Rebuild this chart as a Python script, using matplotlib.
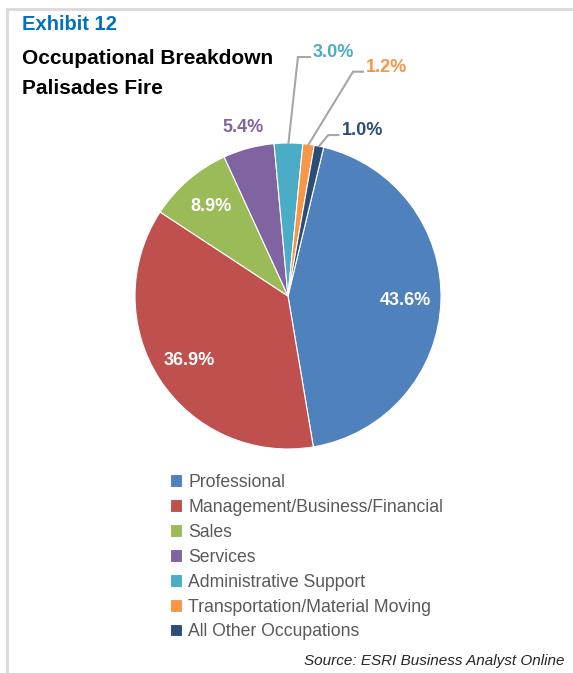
import matplotlib.pyplot as plt
from matplotlib.patches import Rectangle
import numpy as np

plt.rcParams['font.family'] = ['Liberation Sans', 'DejaVu Sans']

# Occupation shares (%)
occupations = [
    "Professional",
    "Management/Business/Financial",
    "Sales",
    "Services",
    "Administrative Support",
    "Transportation/Material Moving",
    "All Other Occupations",
]
shares = [43.6, 36.9, 8.9, 5.4, 3.0, 1.2, 1.0]
colors = ["#4F81BD", "#C0504D", "#9BBB59", "#8064A2", "#4BACC6", "#F79646", "#2C4D75"]

W, H = 573, 673
fig = plt.figure(figsize=(W / 100, H / 100), dpi=100)

# light frame around the exhibit
fig.patches.append(Rectangle((7 / W, -0.05), 1.1, (H - 9) / H + 0.05,
                             transform=fig.transFigure, fill=False,
                             edgecolor="#D9D9D9", linewidth=2))

# titles
fig.text(22 / W, 1 - 24 / H, "Exhibit 12", color="#0070C0", fontsize=14.5,
         fontweight="bold", va="center", ha="left")
fig.text(22 / W, 1 - 58 / H, "Occupational Breakdown", color="black", fontsize=15,
         fontweight="bold", va="center", ha="left")
fig.text(22 / W, 1 - 88 / H, "Palisades Fire", color="black", fontsize=15,
         fontweight="bold", va="center", ha="left")

# pie axes: center (288, 296) px, radius 153 px
cx, cy, r = 288, 296, 153
ax = fig.add_axes([(cx - r) / W, (H - cy - r) / H, 2 * r / W, 2 * r / H])

start = 76.5
wedges, _ = ax.pie(shares, colors=colors, startangle=start, counterclock=False,
                   radius=1, wedgeprops=dict(edgecolor="white", linewidth=0.8))
ax.set_xlim(-1, 1)
ax.set_ylim(-1, 1)
ax.axis("off")

# mid angle of each wedge (degrees, math convention)
cum = np.cumsum([0] + shares)
mids = [start - 3.6 * (cum[i] + shares[i] / 2) for i in range(len(shares))]

def polar(d, ang):
    a = np.deg2rad(ang)
    return d * np.cos(a), d * np.sin(a)

# labels inside the big slices
for i in range(3):
    x, y = polar(0.77, mids[i])
    ax.text(x, y, f"{shares[i]:.1f}%", color="white", fontsize=13,
            fontweight="bold", ha="center", va="center")

# Services label just outside
x, y = polar(1.14, mids[3])
ax.text(x, y, f"{shares[3]:.1f}%", color=colors[3], fontsize=13,
        fontweight="bold", ha="center", va="center", clip_on=False)

# leader-lined labels for the thin slices: (elbow, end) in pie units
leaders = {
    4: ((0.065, 1.562), (0.144, 1.562)),
    5: ((0.425, 1.466), (0.49, 1.466)),
    6: ((0.263, 1.052), (0.329, 1.052)),
}
for i, (elbow, end) in leaders.items():
    sx, sy = polar(1.0, mids[i])
    ax.plot([sx, elbow[0], end[0]], [sy, elbow[1], end[1]], color="#A6A6A6",
            linewidth=1.5, clip_on=False, solid_joinstyle="miter")
    ax.text(end[0] + 0.02, end[1] + 0.03, f"{shares[i]:.1f}%", color=colors[i],
            fontsize=13, fontweight="bold", ha="left", va="center", clip_on=False)

# legend
leg = fig.legend(wedges, occupations, loc="upper left",
                 bbox_to_anchor=(161 / W, 1 - 465 / H), frameon=False,
                 fontsize=12.7, handlelength=0.7, handleheight=0.7,
                 handletextpad=0.35, labelspacing=0.45, borderpad=0)
for t in leg.get_texts():
    t.set_color("#595959")

fig.text(565 / W, 1 - 661 / H, "Source: ESRI Business Analyst Online",
         fontsize=11, fontstyle="italic", color="#262626", ha="right", va="center")

fig.savefig("out.png", dpi=100)
